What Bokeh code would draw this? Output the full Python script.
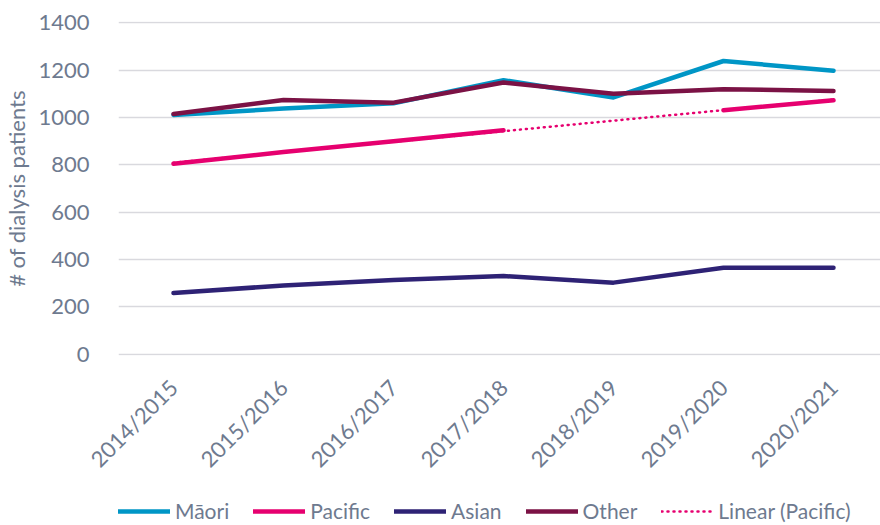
import math
import numpy as np
from bokeh.plotting import figure
from bokeh.layouts import column
from bokeh.models import Range1d, FixedTicker, Legend, LegendItem, ColumnDataSource
from bokeh.embed import file_html
from bokeh.resources import INLINE

years = ["2014/2015", "2015/2016", "2016/2017", "2017/2018", "2018/2019", "2019/2020", "2020/2021"]
maori = [1011, 1038, 1060, 1158, 1085, 1239, 1198]
pacific = [805, 854, 900, 946, np.nan, 1031, 1073]
asian = [258, 290, 313, 330, 302, 365, 365]
other = [1015, 1074, 1063, 1148, 1101, 1120, 1112]
series_names = ["Māori", "Pacific", "Asian", "Other", "Linear (Pacific)"]

x = list(range(len(years)))

# Linear (Pacific): least-squares trendline over the reported Pacific years
px = [i for i, v in zip(x, pacific) if not np.isnan(v)]
pv = [v for v in pacific if not np.isnan(v)]
slope, intercept = np.polyfit(px, pv, 1)
pacific_trend = [slope * i + intercept for i in x]

TEXT = "#6E7A8F"
FONT = "Lato"
C_MAORI = "#0096C6"
C_PACIFIC = "#E6006F"
C_ASIAN = "#2E2275"
C_OTHER = "#7B1245"

SOLID = dict(line_width=4.5, line_cap="round", line_join="round")
DOTTED = dict(line_width=2.5, line_dash="1 5", line_cap="round")

src = ColumnDataSource(dict(x=x, maori=maori, pacific=pacific, asian=asian,
                            other=other, trend=pacific_trend))

FW = 762
p = figure(frame_width=FW, frame_height=334,
           x_range=Range1d(-0.5, -0.5 + FW / 110.0), y_range=Range1d(-6, 1406),
           output_backend="svg", toolbar_location=None,
           min_border_left=110, min_border_right=0, min_border_top=21, min_border_bottom=130)
p.outline_line_color = None
p.background_fill_color = "white"

p.line("x", "trend", source=src, line_color=C_PACIFIC, **DOTTED)
p.line("x", "pacific", source=src, line_color=C_PACIFIC, **SOLID)
p.line("x", "asian", source=src, line_color=C_ASIAN, **SOLID)
p.line("x", "maori", source=src, line_color=C_MAORI, **SOLID)
p.line("x", "other", source=src, line_color=C_OTHER, **SOLID)

p.xgrid.visible = False
p.ygrid.grid_line_color = "#D9D9DE"
p.ygrid.grid_line_width = 1.5

p.yaxis.ticker = FixedTicker(ticks=list(range(0, 1401, 200)))
p.xaxis.ticker = FixedTicker(ticks=x)
p.xaxis.major_label_overrides = {i: y for i, y in enumerate(years)}
p.xaxis.major_label_orientation = math.pi / 4
for ax in (p.xaxis, p.yaxis):
    ax.axis_line_color = None
    ax.major_tick_line_color = None
    ax.minor_tick_line_color = None
    ax.major_label_text_font = FONT
    ax.major_label_text_font_size = "22px"
    ax.major_label_text_color = TEXT
p.yaxis.major_label_standoff = 23
p.xaxis.major_label_standoff = 22
p.yaxis.axis_label = "# of dialysis patients"
p.yaxis.axis_label_text_font = FONT
p.yaxis.axis_label_text_font_size = "22px"
p.yaxis.axis_label_text_font_style = "normal"
p.yaxis.axis_label_text_color = TEXT
p.yaxis.axis_label_standoff = 5

# Legend strip below the chart: same series drawn outside its view, so only
# the legend (whose swatches take their style from these renderers) shows.
lg = figure(width=872, height=40, x_range=Range1d(0, 1), y_range=Range1d(0, 1),
            output_backend="svg", toolbar_location=None,
            x_axis_location=None, y_axis_location=None, min_border=0)
lg.outline_line_color = None
lg.xgrid.visible = False
lg.ygrid.visible = False
fields = ["maori", "pacific", "asian", "other", "trend"]
colors = [C_MAORI, C_PACIFIC, C_ASIAN, C_OTHER, C_PACIFIC]
styles = [SOLID, SOLID, SOLID, SOLID, DOTTED]
items = []
for name, f, c, st in zip(series_names, fields, colors, styles):
    r = lg.line("x", f, source=src, line_color=c, **st)
    items.append(LegendItem(label=name, renderers=[r]))
legend = Legend(items=items, orientation="horizontal", location=(0, 2),
                border_line_color=None, background_fill_alpha=0,
                glyph_width=52, glyph_height=20, label_standoff=5, spacing=24,
                padding=0, margin=0,
                label_text_font=FONT, label_text_font_size="21px", label_text_color=TEXT)
lg.add_layout(legend, "center")

layout = column(p, lg, spacing=0)
open("out.html", "w").write(file_html(layout, INLINE))
